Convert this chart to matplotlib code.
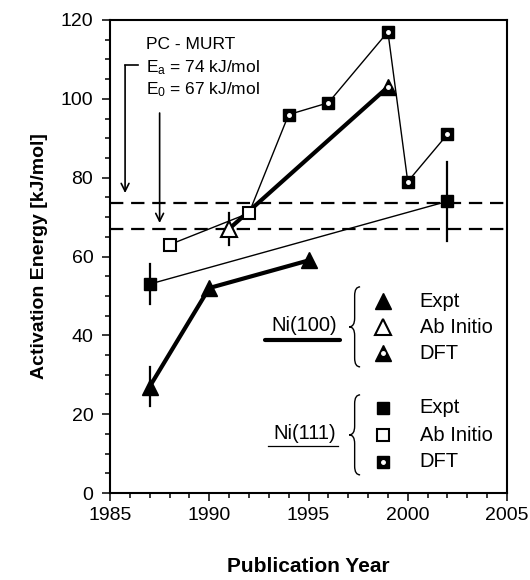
import matplotlib
matplotlib.use("Agg")
import matplotlib.pyplot as plt
from matplotlib.path import Path
from matplotlib.patches import PathPatch
from matplotlib.ticker import MultipleLocator

plt.rcParams['font.family'] = ['Liberation Sans', 'DejaVu Sans']
plt.rcParams['mathtext.fontset'] = 'custom'
plt.rcParams['mathtext.rm'] = 'Liberation Sans'
plt.rcParams['mathtext.it'] = 'Liberation Sans'

# ---- data ----
ni100_expt_year = [1987, 1990, 1995]
ni100_expt_ea = [27, 52, 59]
ni100_expt_err = [5, 0, 0]

ni100_abi_year = [1991]
ni100_abi_ea = [67]
ni100_abi_err = [4]

ni100_dft_year = [1999]
ni100_dft_ea = [103]

ni111_expt_year = [1987, 2002]
ni111_expt_ea = [53, 74]
ni111_expt_err = [5, 10]

ni111_abi_year = [1988, 1992]
ni111_abi_ea = [63, 71]

ni111_dft_year = [1994, 1996, 1999, 2000, 2002]
ni111_dft_ea = [96, 99, 117, 79, 91]

murt_ea = 73.5
murt_e0 = 67

legend_rows = ['Expt', 'Ab Initio', 'DFT']


def brace(ax, x, ylo, yhi, w=0.55, r=2.2, lw=1.0):
    """left curly brace, tip at x"""
    ym = 0.5 * (ylo + yhi)
    xs = x + w / 2
    verts = [(x + w, yhi), (xs, yhi), (xs, yhi - r),
             (xs, ym + r),
             (xs, ym), (x, ym),
             (xs, ym), (xs, ym - r),
             (xs, ylo + r),
             (xs, ylo), (x + w, ylo)]
    codes = [Path.MOVETO, Path.CURVE3, Path.CURVE3,
             Path.LINETO,
             Path.CURVE3, Path.CURVE3,
             Path.CURVE3, Path.CURVE3,
             Path.LINETO,
             Path.CURVE3, Path.CURVE3]
    ax.add_patch(PathPatch(Path(verts, codes), fill=False, lw=lw,
                           color='black', clip_on=False))


def dft_marker(ax, x, y, m, ms):
    ax.plot(x, y, m, color='black', ms=ms, ls='none', zorder=5)
    ax.plot(x, y, 'o', color='white', ms=2.5, ls='none', zorder=6)


fig = plt.figure(figsize=(5.3, 5.8), dpi=100)
ax = fig.add_axes([110 / 530, 87 / 580, 397 / 530, 473 / 580])

# dashed PC-MURT levels
ax.axhline(murt_ea, color='black', lw=1.6, ls=(0, (6, 3.5)), zorder=1)
ax.axhline(murt_e0, color='black', lw=1.6, ls=(0, (6, 3.5)), zorder=1)

# connecting lines
ax.plot(ni100_expt_year, ni100_expt_ea, color='black', lw=3, zorder=2)
ax.plot(ni100_abi_year + ni100_dft_year, ni100_abi_ea + ni100_dft_ea,
        color='black', lw=3, zorder=2)
ax.plot(ni111_expt_year, ni111_expt_ea, color='black', lw=1, zorder=2)
ax.plot(ni111_abi_year + ni111_dft_year, ni111_abi_ea + ni111_dft_ea,
        color='black', lw=1, zorder=2)

# error bars
for yr, v, e in zip(ni100_expt_year, ni100_expt_ea, ni100_expt_err):
    if e:
        ax.plot([yr, yr], [v - e, v + e], color='black', lw=1.6, zorder=3)
for yr, v, e in zip(ni100_abi_year, ni100_abi_ea, ni100_abi_err):
    ax.plot([yr, yr], [v - e, v + e], color='black', lw=1.6, zorder=3)
for yr, v, e in zip(ni111_expt_year, ni111_expt_ea, ni111_expt_err):
    ax.plot([yr, yr], [v - e, v + e], color='black', lw=1.6, zorder=3)

# markers
ax.plot(ni100_expt_year, ni100_expt_ea, '^', color='black', ms=12, ls='none', zorder=5)
ax.plot(ni100_abi_year, ni100_abi_ea, '^', mfc='white', mec='black', mew=1.5,
        ms=12, ls='none', zorder=5)
dft_marker(ax, ni100_dft_year, ni100_dft_ea, '^', 12)
ax.plot(ni111_expt_year, ni111_expt_ea, 's', color='black', ms=9, ls='none', zorder=5)
ax.plot(ni111_abi_year, ni111_abi_ea, 's', mfc='white', mec='black', mew=1.5,
        ms=9, ls='none', zorder=5)
dft_marker(ax, ni111_dft_year, ni111_dft_ea, 's', 9)

# PC-MURT annotation
ax.text(1986.8, 113.7, 'PC - MURT', fontsize=12.5, va='center', ha='left')
ax.text(1986.8, 107.9, '$E_\\mathrm{a}$ = 74 kJ/mol', fontsize=12.5, va='center', ha='left')
ax.text(1986.8, 102.3, '$E_\\mathrm{0}$ = 67 kJ/mol', fontsize=12.5, va='center', ha='left')
ax.plot([1986.4, 1985.76], [108.5, 108.5], color='black', lw=1.2)
ax.annotate('', xy=(1985.76, 76.1), xytext=(1985.76, 108.5),
            arrowprops=dict(arrowstyle='->', lw=1.2, color='black',
                            shrinkA=0, shrinkB=0, mutation_scale=14))
ax.annotate('', xy=(1987.5, 68.5), xytext=(1987.5, 96.4),
            arrowprops=dict(arrowstyle='->', lw=1.2, color='black',
                            shrinkA=0, shrinkB=0, mutation_scale=14))

# hand-made legend
mk_x = 1998.75
lab_x = 2000.6
rows100 = [48.7, 42.1, 35.5]
rows111 = [21.6, 14.7, 7.9]

ax.plot(mk_x, rows100[0], '^', color='black', ms=12)
ax.plot(mk_x, rows100[1], '^', mfc='white', mec='black', mew=1.5, ms=12)
dft_marker(ax, [mk_x], [rows100[2]], '^', 12)
ax.plot(mk_x, rows111[0], 's', color='black', ms=9)
ax.plot(mk_x, rows111[1], 's', mfc='white', mec='black', mew=1.5, ms=9)
dft_marker(ax, [mk_x], [rows111[2]], 's', 9)
for yv, lab in zip(rows100, legend_rows):
    ax.text(lab_x, yv, lab, fontsize=14.5, va='center', ha='left')
for yv, lab in zip(rows111, legend_rows):
    ax.text(lab_x, yv, lab, fontsize=14.5, va='center', ha='left')

ax.text(1994.8, 42.4, 'Ni(100)', fontsize=14.5, va='center', ha='center')
ax.plot([1992.8, 1996.6], [38.8, 38.8], color='black', lw=3, solid_capstyle='round')
ax.text(1994.8, 15.2, 'Ni(111)', fontsize=14.5, va='center', ha='center')
ax.plot([1992.95, 1996.5], [11.9, 11.9], color='black', lw=0.9)
brace(ax, 1997.05, 32.0, 52.3)
brace(ax, 1997.05, 4.6, 24.9)

# axes styling
ax.set_xlim(1985, 2005)
ax.set_ylim(0, 120)
ax.xaxis.set_major_locator(MultipleLocator(5))
ax.xaxis.set_minor_locator(MultipleLocator(1))
ax.yaxis.set_major_locator(MultipleLocator(20))
ax.yaxis.set_minor_locator(MultipleLocator(5))
ax.tick_params(which='both', direction='out', width=1.1, labelsize=14,
               top=False, right=False)
ax.tick_params(which='major', length=6)
ax.tick_params(which='minor', length=3.5)
ax.tick_params(axis='x', which='major', pad=4)
ax.tick_params(axis='y', which='major', pad=6)
for sp in ax.spines.values():
    sp.set_linewidth(1.5)

ax.set_xlabel('Publication Year', fontsize=15, fontweight='bold', labelpad=24)
ax.set_ylabel('Activation Energy [kJ/mol]', fontsize=14, fontweight='bold', labelpad=9)

fig.savefig('out.png', dpi=100)
